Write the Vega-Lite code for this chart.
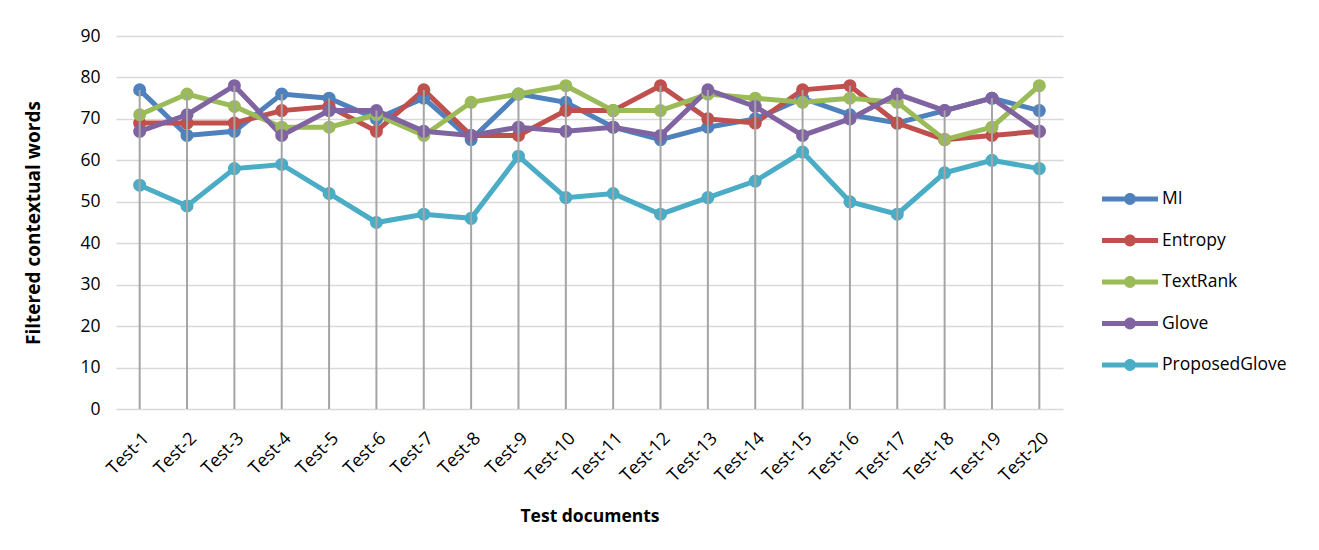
{
  "$schema": "https://vega.github.io/schema/vega-lite/v6.json",
  "width": 947,
  "height": 373,
  "autosize": {"type": "none"},
  "padding": {"left": 116, "top": 36, "right": 256, "bottom": 141},
  "background": "white",
  "config": {
    "view": {"stroke": null},
    "font": "Open Sans",
    "axis": {"labelColor": "#000000", "titleColor": "#000000", "domain": false, "ticks": false}
  },
  "data": {
    "values": [
      {"test": "Test-1", "MI": 77, "Entropy": 69, "TextRank": 71, "Glove": 67, "ProposedGlove": 54},
      {"test": "Test-2", "MI": 66, "Entropy": 69, "TextRank": 76, "Glove": 71, "ProposedGlove": 49},
      {"test": "Test-3", "MI": 67, "Entropy": 69, "TextRank": 73, "Glove": 78, "ProposedGlove": 58},
      {"test": "Test-4", "MI": 76, "Entropy": 72, "TextRank": 68, "Glove": 66, "ProposedGlove": 59},
      {"test": "Test-5", "MI": 75, "Entropy": 73, "TextRank": 68, "Glove": 72, "ProposedGlove": 52},
      {"test": "Test-6", "MI": 70, "Entropy": 67, "TextRank": 71, "Glove": 72, "ProposedGlove": 45},
      {"test": "Test-7", "MI": 75, "Entropy": 77, "TextRank": 66, "Glove": 67, "ProposedGlove": 47},
      {"test": "Test-8", "MI": 65, "Entropy": 66, "TextRank": 74, "Glove": 66, "ProposedGlove": 46},
      {"test": "Test-9", "MI": 76, "Entropy": 66, "TextRank": 76, "Glove": 68, "ProposedGlove": 61},
      {"test": "Test-10", "MI": 74, "Entropy": 72, "TextRank": 78, "Glove": 67, "ProposedGlove": 51},
      {"test": "Test-11", "MI": 68, "Entropy": 72, "TextRank": 72, "Glove": 68, "ProposedGlove": 52},
      {"test": "Test-12", "MI": 65, "Entropy": 78, "TextRank": 72, "Glove": 66, "ProposedGlove": 47},
      {"test": "Test-13", "MI": 68, "Entropy": 70, "TextRank": 76, "Glove": 77, "ProposedGlove": 51},
      {"test": "Test-14", "MI": 70, "Entropy": 69, "TextRank": 75, "Glove": 73, "ProposedGlove": 55},
      {"test": "Test-15", "MI": 75, "Entropy": 77, "TextRank": 74, "Glove": 66, "ProposedGlove": 62},
      {"test": "Test-16", "MI": 71, "Entropy": 78, "TextRank": 75, "Glove": 70, "ProposedGlove": 50},
      {"test": "Test-17", "MI": 69, "Entropy": 69, "TextRank": 74, "Glove": 76, "ProposedGlove": 47},
      {"test": "Test-18", "MI": 72, "Entropy": 65, "TextRank": 65, "Glove": 72, "ProposedGlove": 57},
      {"test": "Test-19", "MI": 75, "Entropy": 66, "TextRank": 68, "Glove": 75, "ProposedGlove": 60},
      {"test": "Test-20", "MI": 72, "Entropy": 67, "TextRank": 78, "Glove": 67, "ProposedGlove": 58}
    ]
  },
  "transform": [
    {"fold": ["MI", "Entropy", "TextRank", "Glove", "ProposedGlove"], "as": ["series", "value"]}
  ],
  "encoding": {
    "x": {
      "field": "test", "type": "nominal", "sort": null,
      "scale": {"type": "point", "padding": 0.5},
      "axis": {
        "title": "Test documents", "titleFontSize": 17.5, "titleFontWeight": "bold", "titlePadding": 22,
        "labelAngle": -45, "labelFontSize": 18, "labelPadding": 20, "grid": false
      }
    }
  },
  "layer": [
    {
      "mark": {"type": "line", "strokeWidth": 5, "point": {"size": 170, "filled": true, "opacity": 1}},
      "encoding": {
        "y": {
          "field": "value", "type": "quantitative",
          "scale": {"domain": [0, 90]},
          "axis": {
            "title": "Filtered contextual words", "titleFontSize": 19, "titleFontWeight": "bold", "titlePadding": 36,
            "values": [0, 10, 20, 30, 40, 50, 60, 70, 80, 90], "labelFontSize": 17.5, "labelPadding": 16,
            "gridColor": "#d9d9d9", "gridWidth": 1.5
          }
        },
        "color": {
          "field": "series", "type": "nominal",
          "sort": ["MI", "Entropy", "TextRank", "Glove", "ProposedGlove"],
          "scale": {
            "domain": ["MI", "Entropy", "TextRank", "Glove", "ProposedGlove"],
            "range": ["#4F81BD", "#C0504D", "#9BBB59", "#8064A2", "#4BACC6"]
          },
          "legend": {
            "title": null, "orient": "none", "legendX": 986, "legendY": 135,
            "labelFontSize": 17.5, "labelColor": "#000000", "rowPadding": 4.5,
            "symbolType": "M-1,-0.09H1V0.09H-1Z M0.21,0A0.21,0.21 0 1,1 -0.21,0A0.21,0.21 0 1,1 0.21,0Z",
            "symbolStrokeWidth": 0, "symbolSize": 3136, "labelOffset": 4, "symbolOpacity": 1
          }
        }
      }
    },
    {
      "transform": [{"aggregate": [{"op": "max", "field": "value", "as": "maxv"}], "groupby": ["test"]}],
      "mark": {"type": "rule", "color": "#a5a5a5", "strokeWidth": 2},
      "encoding": {
        "y": {"field": "maxv", "type": "quantitative"},
        "y2": {"datum": 0}
      }
    }
  ]
}
